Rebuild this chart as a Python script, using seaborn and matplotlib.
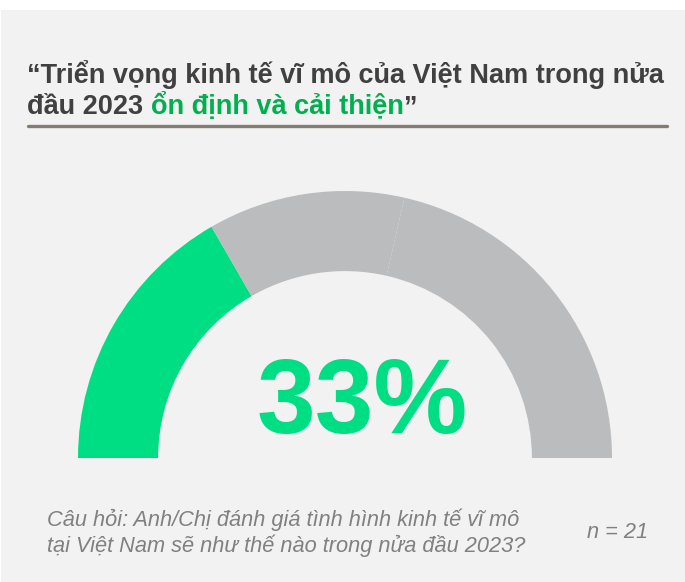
import matplotlib
matplotlib.use("Agg")
import matplotlib.pyplot as plt
from matplotlib.patches import Rectangle
from matplotlib.lines import Line2D
import seaborn as sns

# survey answers, n = 21 respondents
labels = ["Ổn định và cải thiện", "Không thay đổi", "Xấu đi"]
counts = [7, 5, 9]
n_total = 21

title_line1 = "“Triển vọng kinh tế vĩ mô của Việt Nam trong nửa"
title_line2 = ["đầu 2023 ", "ổn định và cải thiện", "”"]
question = ["Câu hỏi: Anh/Chị đánh giá tình hình kinh tế vĩ mô",
            "tại Việt Nam sẽ như thế nào trong nửa đầu 2023?"]

green = "#00DE84"
title_green = "#00B050"
gray = "#BBBCBE"
dark = "#404040"
bg = "#F2F2F2"

sns.set_theme(style="white", rc={"figure.facecolor": "white"})
plt.rcParams["font.family"] = ["Liberation Sans", "DejaVu Sans"]

W, H = 685, 582
fig = plt.figure(figsize=(W / 100, H / 100), dpi=100)
# light grey card below a thin white strip
fig.add_artist(Rectangle((1 / W, 0), 1, (H - 10) / H, transform=fig.transFigure,
                         facecolor=bg, edgecolor="none", zorder=0))

# gauge: half donut, the hidden half is the total
ax = fig.add_axes([78 / W, (H - 458) / H, 534 / W, 267 / H])
ax.pie(counts + [n_total], colors=[green, gray, gray, "none"], startangle=180,
       counterclock=False, radius=1, wedgeprops=dict(width=0.3, linewidth=0))
ax.set_xlim(-1, 1)
ax.set_ylim(0, 1)
ax.set_aspect("auto")
ax.axis("off")

pct = round(100 * counts[0] / n_total)
ax.text(0.065, 0.094, f"{pct}%", ha="center", va="baseline", fontsize=76,
        fontweight="bold", color=green)

# title
fs = 19.5
fig.text(27 / W, 1 - 82.7 / H, title_line1, fontsize=fs, fontweight="bold",
         color=dark, va="baseline")
fig.canvas.draw()
r = fig.canvas.get_renderer()
x = 27
for part, col in zip(title_line2, [dark, title_green, dark]):
    t = fig.text(x / W, 1 - 114 / H, part.strip(), fontsize=fs, fontweight="bold",
                 color=col, va="baseline")
    x += t.get_window_extent(r).width
    if part.endswith(" "):
        x += 0.278 * fs * 100 / 72

fig.add_artist(Line2D([28 / W, 667 / W], [1 - 125.7 / H] * 2, color="#857D70",
                      lw=2.4, transform=fig.transFigure))

# footer
foot = dict(fontsize=15.7, style="italic", color="#808080", va="baseline")
fig.text(47 / W, 1 - 525.7 / H, question[0], **foot)
fig.text(47 / W, 1 - 551.7 / H, question[1], **foot)
fig.text(587 / W, 1 - 538.3 / H, f"n = {n_total}", **foot)

fig.savefig("out.png", dpi=100)
